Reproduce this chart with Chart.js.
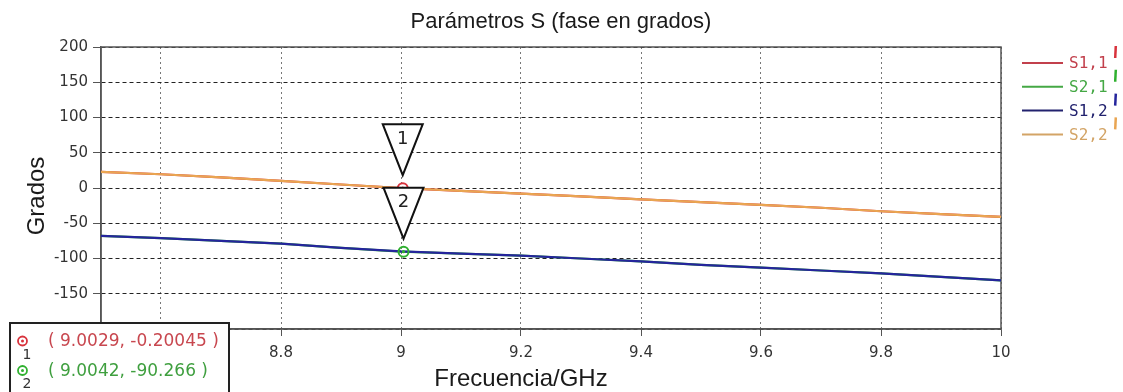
<!DOCTYPE html>
<html>
<head>
<meta charset="utf-8">
<script src="https://cdn.jsdelivr.net/npm/chart.js@4.4.0/dist/chart.umd.min.js"></script>
<style>
  html, body { margin: 0; padding: 0; background: #fff; }
  canvas { display: block; }
</style>
</head>
<body>
<canvas id="faseChart" width="1123" height="392"></canvas>
<script>
// frecuencia en GHz
const frecuencias = [8.5, 8.6, 8.7, 8.8, 8.9, 9.0, 9.1, 9.2, 9.3, 9.4, 9.5, 9.6, 9.7, 9.8, 9.9, 10.0];

// fase en grados de cada parámetro S
const s11 = [23, 19.5, 15, 10, 5, -0.2, -4, -8, -12, -16, -20, -24, -28, -33, -37, -41];
const s21 = [-68, -71, -75, -79, -85, -90.3, -93, -96, -100, -104, -109, -113, -117, -121, -126, -131];
const s12 = [-68, -71, -75, -79, -85, -90, -93, -96, -100, -104, -109, -113, -117, -121, -126, -131];
const s22 = [23, 19.5, 15, 10, 5, 0, -4, -8, -12, -16, -20, -24, -28, -33, -37, -41];

const nombres = ["S1,1", "S2,1", "S1,2", "S2,2"];
const colores = ["#d8323c", "#2fb02f", "#25259c", "#e9a552"];
const coloresLeyenda = ["#c2404c", "#45a845", "#22226e", "#d3a466"];

const ticksX = [8.6, 8.8, 9, 9.2, 9.4, 9.6, 9.8, 10];

// marcadores: 1 sobre S1,1 y 2 sobre S2,1
const marcadorX = [9.0029, 9.0042];
const marcadorY = [-0.20045, -90.266];
const marcadorSerie = [0, 1];

const series = [s11, s21, s12, s22];
const pares = arr => frecuencias.map((f, i) => ({ x: f, y: arr[i] }));

// la última serie queda encima (order menor se dibuja después)
const datasets = series.map((s, i) => ({
  label: nombres[i],
  data: pares(s),
  borderColor: colores[i],
  borderWidth: 2.2,
  pointRadius: 0,
  tension: 0,
  order: series.length - i
}));

// anillo y punto central de cada marcador
marcadorX.forEach((mx, k) => {
  const c = colores[marcadorSerie[k]];
  datasets.push({
    label: "m" + (k + 1),
    data: [{ x: mx, y: marcadorY[k] }],
    showLine: false,
    pointRadius: 5,
    pointBorderWidth: 2,
    pointBorderColor: c,
    pointBackgroundColor: "rgba(255,255,255,0)",
    order: -1
  });
  datasets.push({
    label: "d" + (k + 1),
    data: [{ x: mx, y: marcadorY[k] }],
    showLine: false,
    pointRadius: 1.6,
    pointBorderWidth: 0,
    pointBackgroundColor: c,
    order: -2
  });
});

const marco = {
  id: "marco",
  beforeDatasetsDraw(chart) {
    const { ctx, chartArea: a } = chart;
    ctx.save();
    ctx.strokeStyle = "#555";
    ctx.lineWidth = 1.5;
    ctx.strokeRect(a.left, a.top, a.right - a.left, a.bottom - a.top);
    ctx.restore();
  },
  afterDatasetsDraw(chart) {
    // triángulos con el número de marcador
    const { ctx } = chart;
    const xs = chart.scales.x, ys = chart.scales.y;
    ctx.save();
    marcadorX.forEach((mx, k) => {
      const px = xs.getPixelForValue(mx);
      const py = ys.getPixelForValue(marcadorY[k]);
      const punta = py - 13, arriba = punta - 51;
      ctx.beginPath();
      ctx.moveTo(px - 20, arriba);
      ctx.lineTo(px + 20, arriba);
      ctx.lineTo(px, punta);
      ctx.closePath();
      ctx.fillStyle = "#fff";
      ctx.fill();
      ctx.strokeStyle = "#111";
      ctx.lineWidth = 2;
      ctx.stroke();
      ctx.fillStyle = "#222";
      ctx.font = "18px 'DejaVu Sans'";
      ctx.textAlign = "center";
      ctx.textBaseline = "middle";
      ctx.fillText(String(k + 1), px, arriba + 15);
    });
    ctx.restore();
  },
  afterDraw(chart) {
    const { ctx } = chart;
    ctx.save();
    // títulos
    ctx.fillStyle = "#1a1a1a";
    ctx.textAlign = "center";
    ctx.textBaseline = "middle";
    ctx.font = "22px 'Liberation Sans', Arial";
    ctx.fillText("Parámetros S (fase en grados)", 561, 22);
    ctx.font = "24px 'Liberation Sans', Arial";
    ctx.fillText("Frecuencia/GHz", 521, 379);
    ctx.save();
    ctx.translate(37, 196);
    ctx.rotate(-Math.PI / 2);
    ctx.fillText("Grados", 0, 0);
    ctx.restore();

    // leyenda
    ctx.textAlign = "left";
    nombres.forEach((n, i) => {
      const y = 63 + i * 23.8;
      ctx.strokeStyle = coloresLeyenda[i];
      ctx.lineWidth = 2;
      ctx.beginPath();
      ctx.moveTo(1022, y);
      ctx.lineTo(1063, y);
      ctx.stroke();
      ctx.fillStyle = coloresLeyenda[i];
      ctx.font = "16px 'DejaVu Sans Mono'";
      ctx.fillText(n, 1069, y + 1);
      ctx.strokeStyle = colores[i];
      ctx.lineWidth = 2.5;
      ctx.beginPath();
      ctx.moveTo(1115.8, y - 17);
      ctx.lineTo(1115.2, y - 5);
      ctx.stroke();
    });

    // cuadro de valores de los marcadores
    ctx.fillStyle = "#fff";
    ctx.fillRect(10, 323, 219, 80);
    ctx.strokeStyle = "#222";
    ctx.lineWidth = 2;
    ctx.strokeRect(10, 323, 219, 80);
    const texto = ["#c8474f", "#3f9f3f"];
    marcadorX.forEach((mx, k) => {
      const y = 342 + k * 29.5;
      const c = colores[marcadorSerie[k]];
      ctx.strokeStyle = c;
      ctx.lineWidth = 1.8;
      ctx.beginPath();
      ctx.arc(22.5, y - 1, 4.5, 0, Math.PI * 2);
      ctx.stroke();
      ctx.fillStyle = c;
      ctx.beginPath();
      ctx.arc(22.5, y - 1, 1.5, 0, Math.PI * 2);
      ctx.fill();
      ctx.fillStyle = "#333";
      ctx.font = "14px 'DejaVu Sans'";
      ctx.textAlign = "center";
      ctx.fillText(String(k + 1), 27, y + 13);
      ctx.textAlign = "left";
      ctx.fillStyle = texto[k];
      ctx.font = "17px 'DejaVu Sans'";
      ctx.fillText("( " + mx + ", " + marcadorY[k] + " )", 48, y);
    });
    ctx.restore();
  }
};

new Chart(document.getElementById("faseChart"), {
  type: "line",
  data: { datasets },
  options: {
    responsive: false,
    animation: false,
    layout: { padding: { top: 47, right: 122, bottom: 0, left: 0 } },
    plugins: {
      legend: { display: false },
      title: { display: false },
      tooltip: { enabled: false }
    },
    scales: {
      x: {
        type: "linear",
        min: 8.5,
        max: 10,
        afterBuildTicks: s => { s.ticks = ticksX.map(v => ({ value: v })); },
        afterFit: s => { s.height = 63; },
        ticks: {
          autoSkip: false,
          maxRotation: 0,
          padding: 8,
          color: "#333",
          font: { family: "DejaVu Sans", size: 15 },
          callback: v => String(+v.toFixed(1))
        },
        grid: { color: "#777", tickLength: 7, tickColor: "#555" },
        border: { color: "#555", width: 1.5, dash: [2, 3] }
      },
      y: {
        min: -200,
        max: 200,
        afterFit: s => { s.width = 101; },
        ticks: {
          stepSize: 50,
          padding: 5,
          color: "#333",
          font: { family: "DejaVu Sans", size: 15 },
          callback: v => (v === -200 ? "" : String(v))
        },
        grid: { color: "#222", tickLength: 8, tickColor: "#555" },
        border: { color: "#555", width: 1.5, dash: [4, 3] }
      }
    }
  },
  plugins: [marco]
});
</script>
</body>
</html>
